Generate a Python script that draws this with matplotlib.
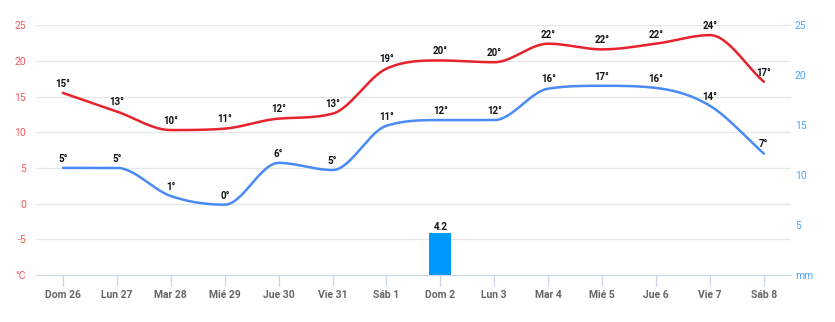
import numpy as np
import matplotlib.pyplot as plt
from matplotlib.transforms import blended_transform_factory

plt.rcParams['font.family'] = ['Roboto', 'DejaVu Sans']

days = ["Dom 26", "Lun 27", "Mar 28", "Mié 29", "Jue 30", "Vie 31", "Sáb 1",
        "Dom 2", "Lun 3", "Mar 4", "Mié 5", "Jue 6", "Vie 7", "Sáb 8"]
temp_max = [15.5, 12.9, 10.3, 10.5, 11.9, 12.6, 18.9, 20.05, 19.8, 22.4, 21.6, 22.4, 23.6, 17.06]
temp_min = [5.0, 5.0, 1.06, -0.15, 5.7, 4.7, 10.9, 11.7, 11.7, 16.1, 16.5, 16.2, 13.7, 7.0]
max_labels = [15, 13, 10, 11, 12, 13, 19, 20, 20, 22, 22, 22, 24, 17]
min_labels = [5, 5, 1, 0, 6, 5, 11, 12, 12, 16, 17, 16, 14, 7]
rain = [0, 0, 0, 0, 0, 0, 0, 4.2, 0, 0, 0, 0, 0, 0]

RED = "#e8222a"
BLUE = "#4a8af4"
BAR = "#0099ff"


def monotone(x, y, n=30):
    # Fritsch-Carlson monotone cubic, just for drawing the smooth line
    x = np.asarray(x, float)
    y = np.asarray(y, float)
    h = np.diff(x)
    d = np.diff(y) / h
    m = np.zeros_like(y)
    m[0], m[-1] = d[0], d[-1]
    for i in range(1, len(y) - 1):
        if d[i - 1] * d[i] <= 0:
            m[i] = 0
        else:
            m[i] = (d[i - 1] + d[i]) / 2
    for i in range(len(d)):
        if d[i] == 0:
            m[i] = m[i + 1] = 0
            continue
        a, b = m[i] / d[i], m[i + 1] / d[i]
        s = a * a + b * b
        if s > 9:
            t = 3 / np.sqrt(s)
            m[i] = t * a * d[i]
            m[i + 1] = t * b * d[i]
    xs, ys = [], []
    for i in range(len(d)):
        t = np.linspace(0, 1, n)
        h00 = 2 * t**3 - 3 * t**2 + 1
        h10 = t**3 - 2 * t**2 + t
        h01 = -2 * t**3 + 3 * t**2
        h11 = t**3 - t**2
        xs.append(x[i] + t * h[i])
        ys.append(h00 * y[i] + h10 * h[i] * m[i] + h01 * y[i + 1] + h11 * h[i] * m[i + 1])
    return np.concatenate(xs), np.concatenate(ys)


fig = plt.figure(figsize=(8.35, 3.22), dpi=100)
ax = fig.add_axes([0.0431, 0.146, 0.904, 0.776])
ax2 = ax.twinx()

x = np.arange(len(days))

ax.set_xlim(-0.5, len(days) - 0.5)
ax.set_ylim(-10, 25)
ax2.set_ylim(0, 25)
left_ticks = [-10, -5, 0, 5, 10, 15, 20, 25]
right_ticks = [0, 5, 10, 15, 20, 25]

# gridlines for the left axis, drawn on ax2 so they sit behind the bar
trans = blended_transform_factory(ax2.transAxes, ax.transData)
for t in left_ticks[1:]:
    ax2.plot([0, 1], [t, t], transform=trans, color="#e6e6e6", lw=0.9, zorder=0)

# rain on the right axis
ax2.bar(x, rain, width=0.41, color=BAR, zorder=1)
for xi, r in zip(x, rain):
    if r > 0:
        ax2.annotate(f"{r:.1f}", (xi, r), xytext=(0, 1), textcoords="offset points",
                     ha="center", va="bottom", fontsize=7, fontweight="bold", color="#111111")

ax.set_zorder(ax2.get_zorder() + 1)
ax.patch.set_visible(False)

for vals, labels, col in [(temp_max, max_labels, RED), (temp_min, min_labels, BLUE)]:
    sx, sy = monotone(x, vals)
    ax.plot(sx, sy, color=col, lw=1.8, solid_capstyle="round", zorder=3)
    for xi, v, lab in zip(x, vals, labels):
        ax.annotate(f"{lab}°", (xi, v), xytext=(0, 3),
                    textcoords="offset points", ha="center", va="bottom",
                    fontsize=7, fontweight="bold", color="#111111", zorder=4)

ax.set_yticks(left_ticks)
ax.set_yticklabels(["°C"] + [str(t) for t in left_ticks[1:]])
ax2.set_yticks(right_ticks)
ax2.set_yticklabels(["mm"] + [str(t) for t in right_ticks[1:]])

ax.set_xticks(x)
ax.set_xticklabels(days)

ax.tick_params(axis="y", length=0, pad=7, labelsize=7.5, labelcolor="#f25a60")
ax2.tick_params(axis="y", length=0, pad=3, labelsize=7.5, labelcolor="#4da6ff")
ax.tick_params(axis="x", length=8, width=0.9, color="#ccd6eb", pad=3,
               labelsize=7.5, labelcolor="#666666")
for lab in ax.get_xticklabels():
    lab.set_fontweight("bold")

for a in (ax, ax2):
    for s in ("top", "left", "right"):
        a.spines[s].set_visible(False)
    a.spines["bottom"].set_color("#ccd6eb")
ax2.spines["bottom"].set_visible(False)

plt.savefig("out.png", dpi=100)
plt.close()
